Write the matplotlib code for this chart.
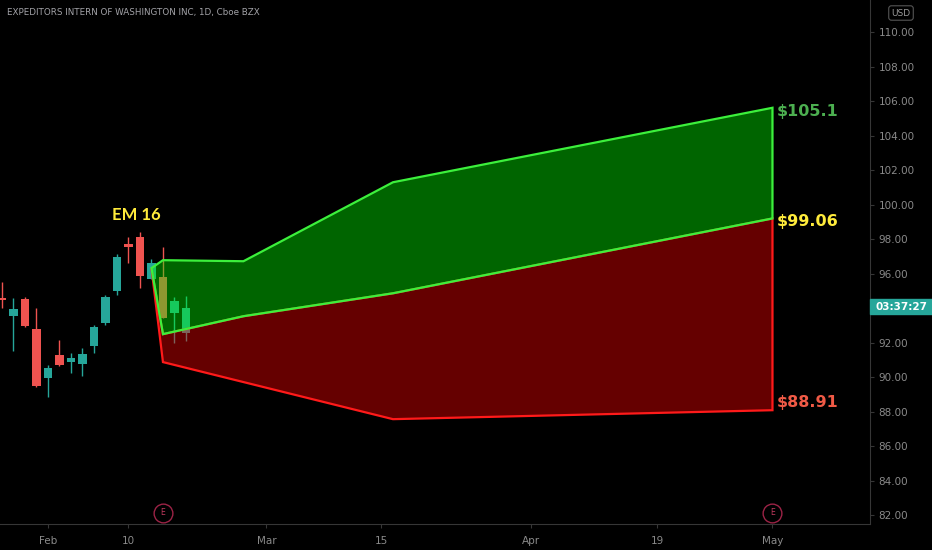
import numpy as np
import matplotlib
matplotlib.use('Agg')
import matplotlib.pyplot as plt
from matplotlib.patches import Rectangle

# daily candles, x = trading-day index (0 = Jan 26)
opens = [94.58, 93.54, 94.52, 92.78, 89.94, 91.28, 90.87, 90.75, 91.80,
         93.13, 94.99, 97.71, 98.12, 95.68, 95.80, 93.71, 92.55]
closes = [94.46, 93.94, 92.96, 89.48, 90.52, 90.70, 91.10, 91.33, 92.90,
          94.64, 96.96, 97.54, 95.86, 96.61, 93.42, 94.41, 94.00]
highs = [95.51, 94.58, 94.64, 94.00, 90.70, 92.14, 91.39, 91.68, 93.01,
         94.75, 97.13, 98.12, 98.41, 96.84, 97.54, 94.64, 94.70]
lows = [94.00, 91.51, 92.90, 89.42, 88.84, 90.64, 90.23, 90.06, 91.39,
        93.01, 94.75, 96.61, 95.16, 95.68, 93.42, 91.97, 92.08]

# expected move projection
upper_x = [13, 14, 21, 34, 67]
upper_y = [96.32, 96.78, 96.72, 101.30, 105.62]
mid_x = [13, 14, 21, 34, 67]
mid_y = [96.32, 92.49, 93.53, 94.86, 99.20]
lower_x = [13, 14, 34, 67]
lower_y = [96.32, 90.87, 87.56, 88.08]

level_labels = ['$105.1', '$99.06', '$88.91']
level_y = [105.42, 99.05, 88.50]
level_colors = ['#4caf50', '#ffeb3b', '#f05a46']

tick_pos = [4, 11, 23, 33, 46, 57, 67]
tick_labels = ['Feb', '10', 'Mar', '15', 'Apr', '19', 'May']
earnings_x = [14, 67]
# 94.00 sits under the countdown tag
price_ticks = [82, 84, 86, 88, 90, 92, 96, 98, 100, 102, 104, 106, 108, 110]

UP, DOWN = '#26a69a', '#ef5350'
GRID = '#363636'
TXT = '#8a8a8a'

fig = plt.figure(figsize=(9.32, 5.5), dpi=100, facecolor='black')
ax = fig.add_axes([0, 26 / 550, 870 / 932, 524 / 550], facecolor='black')

x = np.arange(len(opens))
o, c = np.array(opens), np.array(closes)
cols = [UP if cc >= oo else DOWN for oo, cc in zip(o, c)]
ax.vlines(x, lows, highs, colors=cols, lw=1, zorder=2)
ax.bar(x, np.maximum(np.abs(c - o), 0.06), bottom=np.minimum(o, c),
       width=0.72, color=cols, lw=0, zorder=3)

# red band (mid -> lower), then green band (upper -> mid) on top
ax.fill(np.r_[mid_x, lower_x[::-1]], np.r_[mid_y, lower_y[::-1]],
        facecolor=(1, 0, 0, 0.4), edgecolor='#ff1a1a', lw=1.6, zorder=4)
ax.fill(np.r_[upper_x, mid_x[::-1]], np.r_[upper_y, mid_y[::-1]],
        facecolor=(0, 1, 0, 0.4), edgecolor='#3cf03c', lw=1.6, zorder=5)

for lab, yy, col in zip(level_labels, level_y, level_colors):
    ax.text(67.35, yy, lab, color=col, fontsize=11.5, fontweight='bold',
            ha='left', va='center', zorder=6)

ax.text(11.7, 99.4, 'EM 16', color='#ffeb3b', fontsize=12,
        fontweight='bold', family='Lato', ha='center', va='center')

# earnings markers
trans = ax.get_xaxis_transform()
for ex in earnings_x:
    ax.plot(ex, 0.021, 'o', ms=13.5, mfc='none', mec='#9c2346', mew=1,
            transform=trans, clip_on=False, zorder=6)
    ax.text(ex, 0.021, 'E', color='#c0395e', fontsize=5.5, ha='center',
            va='center', transform=trans)

ax.set_xlim(-0.17, 75.48)
ax.set_ylim(81.48, 111.87)

ax.yaxis.tick_right()
ax.set_yticks(price_ticks)
ax.set_yticklabels(['%.2f' % v for v in price_ticks])
ax.set_xticks(tick_pos)
ax.set_xticklabels(tick_labels)
ax.tick_params(axis='y', colors=GRID, labelcolor=TXT, labelsize=7.5,
               length=3, pad=3)
ax.tick_params(axis='x', colors=GRID, labelcolor=TXT, labelsize=7.5,
               length=3, pad=6)
for side in ['top', 'left']:
    ax.spines[side].set_visible(False)
for side in ['right', 'bottom']:
    ax.spines[side].set_color(GRID)

fig.text(7 / 932, 1 - 13 / 550,
         'EXPEDITORS INTERN OF WASHINGTON INC, 1D, Cboe BZX',
         color='#a3a3a8', fontsize=6.3, ha='left', va='center')
fig.text(901 / 932, 1 - 13 / 550, 'USD', color='#9a9a9a', fontsize=6.5,
         ha='center', va='center',
         bbox=dict(boxstyle='round,pad=0.3', fc='black', ec='#555555', lw=0.8))

# countdown tag on the price scale
fig.patches.append(Rectangle((870 / 932, 1 - 314 / 550), 62 / 932, 15 / 550,
                             transform=fig.transFigure, color=UP))
fig.text(901 / 932, 1 - 306.5 / 550, '03:37:27', color='white', fontsize=7.5,
         fontweight='bold', ha='center', va='center')

fig.savefig('out.png', dpi=100, facecolor='black')
